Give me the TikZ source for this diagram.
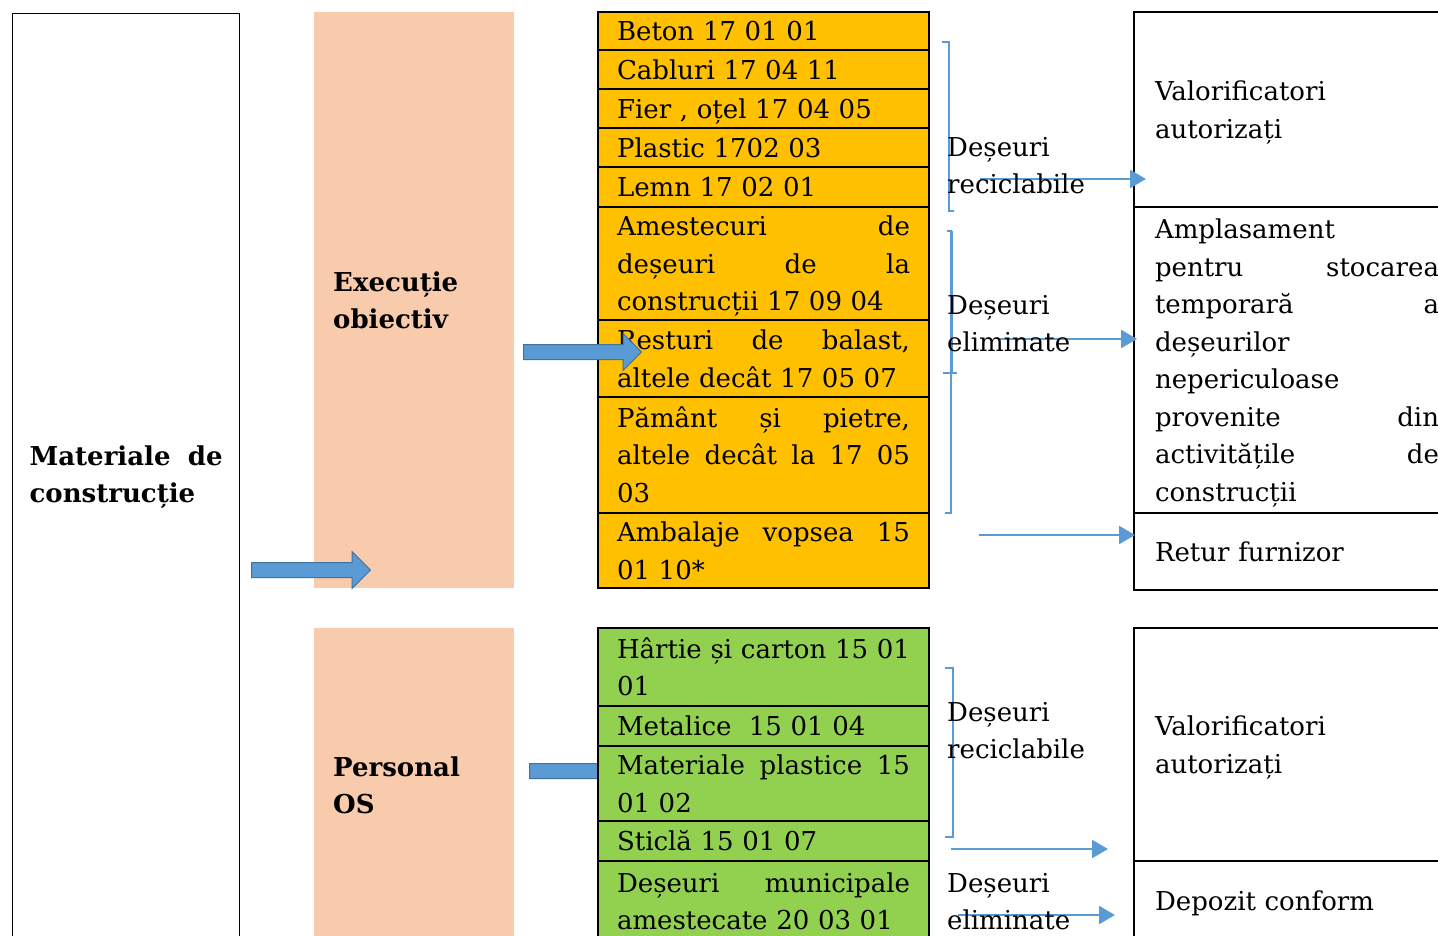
\documentclass[tikz,border=0pt]{standalone}
\usepackage{fontspec}
\setmainfont{DejaVu Serif}
\usepackage{tikz}
\usetikzlibrary{positioning,shapes.arrows,arrows.meta}
\setlength{\parindent}{0pt}
\definecolor{galben}{HTML}{FFC000}
\definecolor{verde}{HTML}{92D050}
\definecolor{piersica}{HTML}{F8CBAD}
\definecolor{albastru}{HTML}{5B9BD5}
\definecolor{albinchis}{HTML}{41719C}
\newcommand{\litera}{\fontsize{26pt}{37.5pt}\selectfont}
\newcommand{\cellstrut}{\rule[-9pt]{0pt}{37.5pt}}

\begin{document}
\begin{tikzpicture}[x=1pt,y=-1pt]
         \tikzset{cel/.style={draw=black, line width=1.2pt, text width=293pt, inner xsep=19pt, inner ysep=0pt, outer sep=0pt,
                  align=left, font=\litera, execute at begin node=\cellstrut, execute at end node=\cellstrut}}
         \tikzset{galb/.style={cel, fill=galben}, verd/.style={cel, fill=verde}}
         \tikzset{etapa/.style={fill=piersica, text width=162pt, inner xsep=19pt, inner ysep=0pt, align=left,
                  anchor=north west, font=\litera\bfseries, execute at begin node=\cellstrut, execute at end node=\cellstrut}}
         \tikzset{dest/.style={draw=black, line width=1.2pt, text width=284pt, inner xsep=21pt, inner ysep=0pt, outer sep=0pt,
                  align=left, font=\litera, execute at begin node=\cellstrut, execute at end node=\cellstrut}}
         \tikzset{eticheta/.style={anchor=west, inner sep=0pt, text width=180pt, align=left, font=\litera,
                  execute at begin node=\cellstrut, execute at end node=\cellstrut}}
         \tikzset{sageata/.style={single arrow, fill=albastru, draw=albinchis, line width=1pt, inner sep=7pt,
                  single arrow head extend=11pt, minimum height=119pt, anchor=tail}}
         \tikzset{flux/.style={draw=albastru, line width=2.5pt, -{Triangle[length=16pt,width=18pt]}}}
         \tikzset{acolada/.style={draw=albastru, line width=1.5pt}}
         \clip (0,0) rectangle (1438,935);
         \node[draw=black, line width=1.2pt, text width=193pt, inner xsep=17pt, inner ysep=0pt, minimum height=927pt,
               anchor=north west, align=left, font=\litera\bfseries] (mat) at (12,13) {Materiale\hfill de\\construcție};
         \node[etapa, minimum height=576pt] (exec) at (314,12) {Execuție\\obiectiv};
         \node[etapa, minimum height=314pt] (pers) at (314,628) {Personal\\OS};
         \node[sageata] (blk1) at (251,570) {};
         % deseuri din executie
         \node[galb, minimum height=38pt, anchor=north west] (beton) at (598,12) {Beton 17 01 01};
         \node[galb, minimum height=39pt, below=0pt of beton] (cabluri) {Cabluri 17 04 11};
         \node[galb, minimum height=39pt, below=0pt of cabluri] (fier) {Fier , oțel 17 04 05};
         \node[galb, minimum height=39pt, below=0pt of fier] (plastic) {Plastic 1702 03};
         \node[galb, minimum height=40pt, below=0pt of plastic] (lemn) {Lemn 17 02 01};
         \node[galb, minimum height=113pt, below=0pt of lemn] (amestec)
              {Amestecuri\hfill de\\deșeuri\hfill de\hfill la\\construcții 17 09 04};
         \node[galb, minimum height=77pt, below=0pt of amestec] (balast)
              {Resturi\hfill de\hfill balast,\\altele decât 17 05 07};
         \node[galb, minimum height=116pt, below=0pt of balast] (pamant)
              {Pământ\hfill și\hfill pietre,\\altele\hfill decât\hfill la\hfill 17\hfill 05\\03};
         \node[galb, minimum height=75pt, below=0pt of pamant] (ambalaj)
              {Ambalaje\hfill vopsea\hfill 15\\01 10*};
         \node[sageata, minimum height=118pt] (blk2) at (523,352) {};
         \node[sageata, minimum height=120pt] (blk3) at (529,771) {};
         % deseuri de la personal
         \node[verd, minimum height=78pt, anchor=north west] (hartie) at (598,628)
              {Hârtie\hfill și\hfill carton\hfill 15\hfill 01\\01};
         \node[verd, minimum height=40pt, below=0pt of hartie] (metal) {Metalice\ \ 15 01 04};
         \node[verd, minimum height=75pt, below=0pt of metal] (matplast)
              {Materiale\hfill plastice\hfill 15\\01 02};
         \node[verd, minimum height=40pt, below=0pt of matplast] (sticla) {Sticlă 15 01 07};
         \node[verd, minimum height=80pt, below=0pt of sticla] (munic)
              {Deșeuri\hfill municipale\\amestecate 20 03 01};
         % destinatii
         \node[dest, minimum height=195pt, anchor=north west] (valsus) at (1134,12) {Valorificatori\\autorizați};
         \node[dest, minimum height=306pt, below=0pt of valsus] (ampl)
              {Amplasament\\pentru\hfill stocarea\\temporară\hfill a\\deșeurilor\\nepericuloase\\provenite\hfill din\\activitățile\hfill de\\construcții};
         \node[dest, minimum height=77pt, below=0pt of ampl] (retur) {Retur furnizor};
         \node[dest, minimum height=233pt, anchor=north west] (valjos) at (1134,628) {Valorificatori\\autorizați};
         \node[dest, minimum height=80pt, below=0pt of valjos] (depozit) {Depozit conform};
         \draw[acolada] (942,42) -- (949,42) -- (949,211) -- (954,211);
         \draw[acolada] (947,231) -- (951,231) -- (951,513) -- (945,513);
         \draw[acolada, line width=3pt] (951,231) -- (951,373);
         \draw[acolada] (943,373) -- (957,373);
         \draw[acolada] (945,668) -- (953,668) -- (953,837) -- (945,837);
         \coordinate (f1) at (980,179);
         \coordinate (f2) at (1000,339);
         \coordinate (f3) at (979,535);
         \coordinate (f4) at (951,849);
         \coordinate (f5) at (958,915);
         \draw[flux] (f1) -- ([xshift=12pt]valsus.west |- f1);
         \draw[flux] (f2) -- ([xshift=3pt]ampl.west |- f2);
         \draw[flux] (f3) -- ([xshift=1pt]retur.west |- f3);
         \draw[flux] (f4) -- ([xshift=-26pt]valjos.west |- f4);
         \draw[flux] (f5) -- ([xshift=-19pt]depozit.west |- f5);
         \node[eticheta] (rec1) at (947,165) {Deșeuri\\reciclabile};
         \node[eticheta] (elim1) at (947,323) {Deșeuri\\eliminate};
         \node[eticheta] (rec2) at (947,730) {Deșeuri\\reciclabile};
         \node[eticheta] (elim2) at (947,901) {Deșeuri\\eliminate};
\end{tikzpicture}
\end{document}
